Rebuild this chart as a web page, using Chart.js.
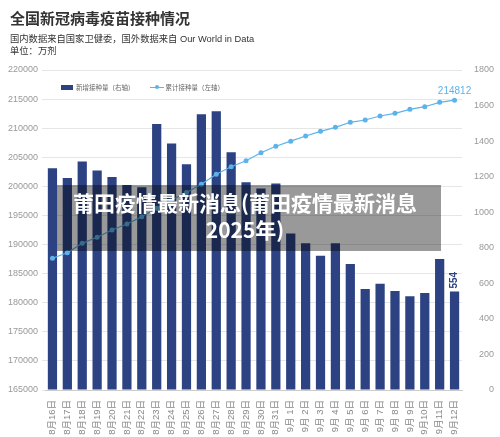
<!DOCTYPE html>
<html>
<head>
<meta charset="utf-8">
<script src="https://cdn.jsdelivr.net/npm/chart.js@4/dist/chart.umd.min.js"></script>
<style>
    body { margin: 0; background: #fff; font-family: "Liberation Sans", "Noto Sans CJK SC", sans-serif; }
    .wrap { position: relative; width: 500px; height: 437px; overflow: hidden; }
    canvas { position: absolute; left: 0; top: 0; }
    .title { position: absolute; left: 10px; top: 7px; font-size: 15px; font-weight: bold; color: #333; }
    .sub { position: absolute; left: 10px; font-size: 9.3px; color: #333; }
    .legend { position: absolute; top: 82px; left: 61px; font-size: 6.5px; color: #666; display: flex; align-items: center; }
    .box { display: inline-block; width: 12px; height: 5px; background: #2c4282; margin-right: 3px; }
    .mark { display: inline-block; position: relative; width: 14px; height: 1px; background: #5cb3ea; margin: 0 2px 0 15px; }
    .mark::after { content: ""; position: absolute; left: 5px; top: -2px; width: 4px; height: 4px; border-radius: 50%; background: #5cb3ea; }
    .overlay {
        position: absolute; left: 57px; top: 185px; width: 376px; padding-right: 8px;
        background: rgba(0, 0, 0, 0.4); color: #fff; text-align: center;
        font-family: "Noto Sans CJK SC", sans-serif; font-weight: bold; font-size: 21px; line-height: 27px;
        padding-top: 4px; height: 62px;
    }
</style>
</head>
<body>
<div class="wrap">
    <canvas id="chart" width="500" height="437"></canvas>
    <div class="title">全国新冠病毒疫苗接种情况</div>
    <div class="sub" style="top:31px">国内数据来自国家卫健委，国外数据来自 Our World in Data</div>
    <div class="sub" style="top:43px">单位：万剂</div>
    <div class="legend">
        <span class="box"></span><span>新增接种量（右轴）</span>
        <span class="mark"></span><span>累计接种量（左轴）</span>
    </div>
    <div class="overlay">莆田疫情最新消息(莆田疫情最新消息<br>2025年)</div>
</div>
<script>
// 日期
const dates = [
    '8月16日', '8月17日', '8月18日', '8月19日', '8月20日', '8月21日', '8月22日',
    '8月23日', '8月24日', '8月25日', '8月26日', '8月27日', '8月28日', '8月29日',
    '8月30日', '8月31日', '9月 1日', '9月 2日', '9月 3日', '9月 4日', '9月 5日',
    '9月 6日', '9月 7日', '9月 8日', '9月 9日', '9月10日', '9月11日', '9月12日'
];

// 新增接种量（右轴，万剂）
const dailyDoses = [
    1247, 1192, 1286, 1234, 1198, 1153, 1140,
    1496, 1386, 1270, 1551, 1568, 1338, 1169,
    1134, 1162, 881, 825, 755, 825, 709,
    568, 598, 557, 527, 546, 737, 554
];

// 累计接种量（左轴，万剂）
const totalDoses = [
    187640, 188600, 190210, 191250, 192500, 193530, 194790,
    196250, 197650, 198950, 200350, 202070, 203380, 204410,
    205790, 206900, 207770, 208650, 209460, 210150, 211010,
    211400, 212090, 212550, 213240, 213690, 214445, 214812
];

const leftTicks = { min: 165000, max: 220000, step: 5000 };
const rightTicks = { min: 0, max: 1800, step: 200 };

const barColor = '#2c4282';
const lineColor = '#5cb3ea';
const tickFont = { family: '"Liberation Sans", "Noto Sans CJK SC", sans-serif', size: 9 };

// 最后一个点和柱子的数值标签
const lastLabels = {
    id: 'lastLabels',
    afterDatasetsDraw(chart) {
        const ctx = chart.ctx;
        const last = dates.length - 1;
        const pt = chart.getDatasetMeta(0).data[last];
        const bar = chart.getDatasetMeta(1).data[last];
        ctx.save();
        ctx.font = '10px "Liberation Sans", sans-serif';
        ctx.fillStyle = lineColor;
        ctx.textAlign = 'center';
        ctx.textBaseline = 'bottom';
        ctx.fillText(String(totalDoses[last]), pt.x, pt.y - 4);

        ctx.translate(bar.x, bar.y - 3);
        ctx.rotate(-Math.PI / 2);
        ctx.font = 'bold 10px "Liberation Sans", sans-serif';
        ctx.fillStyle = barColor;
        ctx.textAlign = 'left';
        ctx.textBaseline = 'middle';
        ctx.fillText(String(dailyDoses[last]), 0, 0);
        ctx.restore();
    }
};

new Chart(document.getElementById('chart').getContext('2d'), {
    data: {
        labels: dates,
        datasets: [{
            type: 'line',
            label: '累计接种量（左轴）',
            data: totalDoses,
            yAxisID: 'y',
            borderColor: lineColor,
            backgroundColor: lineColor,
            borderWidth: 1.2,
            pointRadius: 2.5,
            pointBackgroundColor: lineColor,
            pointBorderWidth: 0,
            tension: 0,
            order: 0
        }, {
            type: 'bar',
            label: '新增接种量（右轴）',
            data: dailyDoses,
            yAxisID: 'y1',
            backgroundColor: barColor,
            barPercentage: 0.62,
            categoryPercentage: 1,
            order: 1
        }]
    },
    options: {
        responsive: false,
        animation: false,
        devicePixelRatio: 1,
        layout: { padding: { top: 70, left: 0, right: 6, bottom: 0 } },
        plugins: {
            legend: { display: false },
            tooltip: { enabled: false }
        },
        scales: {
            x: {
                offset: true,
                grid: { display: false },
                border: { color: '#cccccc' },
                ticks: {
                    color: '#888',
                    font: { ...tickFont, size: 9.5 },
                    minRotation: 90,
                    maxRotation: 90,
                    autoSkip: false,
                    padding: 2
                },
                afterFit(scale) { scale.height = 47; }
            },
            y: {
                position: 'left',
                min: leftTicks.min,
                max: leftTicks.max,
                ticks: {
                    stepSize: leftTicks.step, color: '#999', font: tickFont, padding: 4,
                    callback: v => String(v)
                },
                grid: { color: '#e6e6e6', tickLength: 3 },
                border: { display: false },
                afterFit(scale) { scale.width = 45; }
            },
            y1: {
                position: 'right',
                min: rightTicks.min,
                max: rightTicks.max,
                ticks: {
                    stepSize: rightTicks.step, color: '#999', font: tickFont, crossAlign: 'far',
                    callback: v => String(v)
                },
                grid: { drawOnChartArea: false, drawTicks: false },
                border: { display: false },
                afterFit(scale) { scale.width = 32; }
            }
        }
    },
    plugins: [lastLabels]
});
</script>
</body>
</html>
